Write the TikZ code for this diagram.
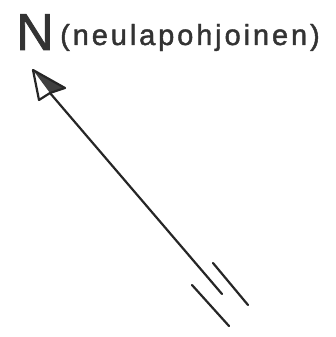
\documentclass[tikz,border=0pt]{standalone}
\usepackage{fontspec}
\setmainfont{Liberation Sans}

\tikzset{
  strich/.style={line width=2.2pt, draw=black!85, line cap=round},
  schrift/.style={anchor=base west, inner sep=0pt, text=black!80}
}

\begin{document}
\begin{tikzpicture}[x=1pt, y=-1pt]
    \useasboundingbox (0,0) rectangle (335,337);
    % Beschriftung:
    \node[schrift, font=\fontsize{52}{56}\selectfont\addfontfeature{FakeBold=1.5}] (nord) at (16,50) {N}; % Nordbuchstabe
    \node[schrift, font=\fontsize{29}{32}\selectfont\addfontfeature{LetterSpace=10,FakeBold=1.5}] (erkl) at (60,45) {(neulapohjoinen)};
    % Pfeilspitze:
    \coordinate (spitze) at (33,70);
    \coordinate (links) at (39,100);
    \coordinate (rechts) at (65,88);
    \coordinate (mitte) at (50,93);
    \coordinate (ende) at (222,294);
    \fill[black!75] (spitze) -- (rechts) -- (mitte) -- cycle; % gefuellte Haelfte
    \draw[strich, line join=round] (spitze) -- (links) -- (mitte) -- (rechts) -- cycle;
    % Nadel:
    \draw[strich] (mitte) -- (ende);
    % Bruchstriche:
    \draw[strich] (213,263) -- (248,305); % erster Strich
    \draw[strich] (192,285) -- (229,326); % zweiter Strich
\end{tikzpicture}
\end{document}
